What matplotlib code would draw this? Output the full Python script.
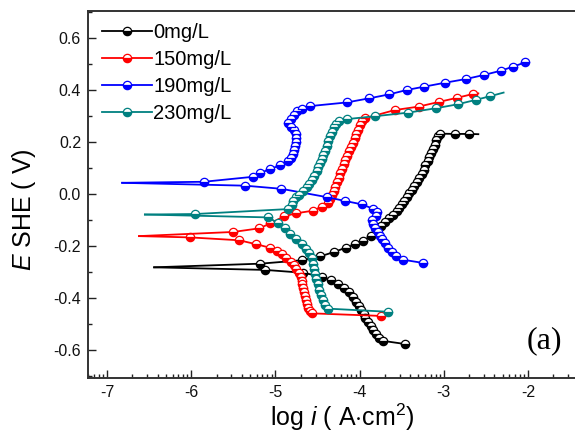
import matplotlib
matplotlib.use('Agg')
import matplotlib.pyplot as plt
import numpy as np
from matplotlib.ticker import FixedLocator, MultipleLocator, FormatStrFormatter

plt.rcParams['font.family'] = ['Liberation Sans', 'DejaVu Sans']
plt.rcParams['mathtext.fontset'] = 'custom'
plt.rcParams['mathtext.rm'] = 'Liberation Sans'
plt.rcParams['mathtext.it'] = 'Liberation Sans:italic'
plt.rcParams['axes.unicode_minus'] = False

labels = ['0mg/L', '150mg/L', '190mg/L', '230mg/L']
colors = ['#000000', '#ff0000', '#0000ff', '#008080']

# ---- 0 mg/L (black) ----
black_cat_logi = [-6.44, -5.12, -4.67, -4.45, -4.34, -4.26, -4.19, -4.13, -4.08, -4.04, -4.01,
                  -3.98, -3.95, -3.93, -3.90, -3.87, -3.84, -3.81, -3.77, -3.72, -3.46]
black_cat_E = [-0.282, -0.292, -0.303, -0.318, -0.331, -0.345, -0.360, -0.378, -0.396, -0.414, -0.430,
               -0.446, -0.462, -0.478, -0.494, -0.509, -0.523, -0.537, -0.552, -0.565, -0.577]
black_an_logi = [-6.44, -5.18, -4.69, -4.47, -4.31, -4.16, -4.05, -3.96, -3.86, -3.80, -3.75, -3.70,
                 -3.65, -3.60, -3.56, -3.53, -3.50, -3.47, -3.44, -3.41, -3.38, -3.35, -3.32, -3.29,
                 -3.26, -3.24, -3.22, -3.19, -3.17, -3.15, -3.13, -3.11, -3.09, -3.07, -3.04, -2.87,
                 -2.70, -2.59]
black_an_E = [-0.282, -0.268, -0.255, -0.240, -0.224, -0.206, -0.194, -0.180, -0.160, -0.140, -0.122,
              -0.106, -0.093, -0.080, -0.066, -0.052, -0.040, -0.027, -0.012, 0.002, 0.016, 0.030,
              0.046, 0.062, 0.078, 0.094, 0.110, 0.126, 0.142, 0.158, 0.174, 0.190, 0.206, 0.222,
              0.232, 0.231, 0.231, 0.230]

# ---- 150 mg/L (red) ----
red_cat_logi = [-6.62, -6.01, -5.43, -5.23, -5.06, -4.98, -4.92, -4.87, -4.82, -4.78, -4.75, -4.72,
                -4.70, -4.69, -4.68, -4.67, -4.66, -4.65, -4.64, -4.63, -4.61, -4.59, -4.57, -3.74]
red_cat_E = [-0.162, -0.167, -0.178, -0.193, -0.207, -0.218, -0.230, -0.245, -0.260, -0.274, -0.288,
             -0.303, -0.318, -0.333, -0.348, -0.363, -0.378, -0.393, -0.408, -0.423, -0.438, -0.451,
             -0.459, -0.469]
red_an_logi = [-6.62, -5.50, -5.19, -5.06, -4.90, -4.75, -4.55, -4.45, -4.38, -4.35, -4.33, -4.31,
               -4.29, -4.27, -4.25, -4.23, -4.21, -4.19, -4.17, -4.15, -4.12, -4.10, -4.08, -4.06,
               -4.04, -4.02, -4.00, -3.97, -3.94, -3.58, -3.30, -3.06, -2.84, -2.65, -2.59]
red_an_E = [-0.162, -0.146, -0.132, -0.113, -0.086, -0.074, -0.064, -0.049, -0.034, -0.020, -0.005,
            0.012, 0.028, 0.045, 0.062, 0.080, 0.097, 0.114, 0.130, 0.147, 0.164, 0.180, 0.197,
            0.214, 0.231, 0.248, 0.264, 0.280, 0.291, 0.323, 0.336, 0.354, 0.370, 0.385, 0.387]

# ---- 190 mg/L (blue) ----
blue_cat_logi = [-6.82, -5.36, -4.93, -4.39, -4.17, -3.97, -3.84, -3.79, -3.80, -3.85, -3.84, -3.82,
                 -3.78, -3.76, -3.73, -3.70, -3.66, -3.62, -3.57, -3.48, -3.25]
blue_cat_E = [0.043, 0.032, 0.020, -0.012, -0.027, -0.040, -0.057, -0.070, -0.085, -0.100, -0.115,
              -0.130, -0.145, -0.160, -0.175, -0.190, -0.206, -0.222, -0.237, -0.253, -0.265]
blue_an_logi = [-6.82, -5.85, -5.27, -5.18, -5.06, -4.94, -4.85, -4.81, -4.79, -4.78, -4.77, -4.76,
                -4.76, -4.76, -4.78, -4.82, -4.85, -4.82, -4.78, -4.74, -4.69, -4.59, -4.155, -3.885,
                -3.65, -3.44, -3.23, -2.985, -2.74, -2.52, -2.325, -2.175, -2.035]
blue_an_E = [0.043, 0.047, 0.066, 0.080, 0.097, 0.110, 0.125, 0.140, 0.155, 0.170, 0.185, 0.200,
             0.215, 0.230, 0.245, 0.258, 0.272, 0.288, 0.303, 0.318, 0.328, 0.338, 0.352, 0.368,
             0.383, 0.400, 0.413, 0.428, 0.442, 0.458, 0.474, 0.490, 0.506]

# ---- 230 mg/L (teal) ----
teal_cat_logi = [-6.55, -5.085, -4.97, -4.89, -4.83, -4.76, -4.69, -4.64, -4.60, -4.57, -4.55, -4.54,
                 -4.53, -4.52, -4.50, -4.48, -4.46, -4.44, -4.41, -4.37, -3.66]
teal_cat_E = [-0.079, -0.090, -0.112, -0.132, -0.154, -0.174, -0.191, -0.210, -0.228, -0.248, -0.268,
              -0.288, -0.308, -0.328, -0.348, -0.368, -0.388, -0.408, -0.426, -0.441, -0.453]
teal_an_logi = [-6.55, -5.95, -4.85, -4.80, -4.79, -4.76, -4.72, -4.67, -4.63, -4.60, -4.57, -4.54,
                -4.51, -4.49, -4.47, -4.45, -4.43, -4.41, -4.39, -4.37, -4.35, -4.33, -4.31, -4.28,
                -4.24, -4.15, -3.82, -3.42, -3.09, -2.835, -2.62, -2.45, -2.29]
teal_an_E = [-0.079, -0.077, -0.058, -0.042, -0.027, -0.013, -0.002, 0.010, 0.025, 0.040, 0.055, 0.071,
             0.087, 0.103, 0.119, 0.135, 0.151, 0.167, 0.183, 0.205, 0.222, 0.240, 0.256, 0.270,
             0.280, 0.288, 0.299, 0.313, 0.330, 0.345, 0.362, 0.376, 0.390]

series = [
    (black_cat_logi, black_cat_E, black_an_logi, black_an_E, True),
    (red_cat_logi, red_cat_E, red_an_logi, red_an_E, True),
    (blue_cat_logi, blue_cat_E, blue_an_logi, blue_an_E, False),
    (teal_cat_logi, teal_cat_E, teal_an_logi, teal_an_E, True),
]

fig = plt.figure(figsize=(5.75, 4.34), dpi=100)
ax = fig.add_axes([88 / 575, 56 / 434, 512 / 575, 367 / 434])

mstyle = dict(marker='o', ms=6.0, mew=0.9, fillstyle='bottom', markerfacecoloralt='white', lw=1.3)
handles = []
for (cx, cy, axx, ayy, open_end), col, lab in zip(series, colors, labels):
    ax.plot(cx, cy, color=col, mec=col, mfc=col, markevery=list(range(1, len(cx))), **mstyle)
    n = len(axx)
    me = list(range(1, n - 1)) if open_end else list(range(1, n))
    h, = ax.plot(axx, ayy, color=col, mec=col, mfc=col, markevery=me, label=lab, **mstyle)
    handles.append(h)

ax.set_xlim(-7.2257, -7.2257 + 512 / 84.2)
ax.set_ylim(-0.7077, 0.7038)

ax.xaxis.set_major_locator(FixedLocator([-7, -6, -5, -4, -3, -2]))
minor_x = [d + np.log10(k) for d in range(-8, -1) for k in range(2, 10)]
ax.xaxis.set_minor_locator(FixedLocator(minor_x))
ax.xaxis.set_major_formatter(FormatStrFormatter('%d'))
ax.yaxis.set_major_locator(MultipleLocator(0.2))
ax.yaxis.set_minor_locator(MultipleLocator(0.1))
ax.yaxis.set_major_formatter(FormatStrFormatter('%.1f'))

ax.tick_params(which='both', direction='in', top=False, right=False, width=1.0, color='#222222',
               labelsize=11.5, labelcolor='#111111')
ax.tick_params(which='major', length=5.5, pad=5)
ax.tick_params(which='minor', length=3)
for s in ax.spines.values():
    s.set_linewidth(1.4)
    s.set_color('#333333')

ax.set_xlabel(r'log $\it{i}$ ( A$\cdot$cm$^2$)', fontsize=18, labelpad=3)
ax.set_ylabel(r'$\it{E}$ SHE ( V)', fontsize=18)
ax.yaxis.set_label_coords(-0.098, 0.46)
ax.xaxis.set_label_coords(0.497, -0.065)
ax.xaxis.label.set_va('top')

ax.text((544 - 88) / 512, (378 - 341) / 367, '(a)', transform=ax.transAxes, fontsize=23,
        family='Liberation Serif', ha='center', va='center')

leg = ax.legend(handles=handles, loc='upper left', bbox_to_anchor=((102 - 88) / 512, (378 - 23) / 367),
                frameon=False, fontsize=14.5, numpoints=1, handlelength=2.5, handletextpad=0.05,
                labelspacing=0.4, borderpad=0, borderaxespad=0)

fig.savefig('out.png', dpi=100)
